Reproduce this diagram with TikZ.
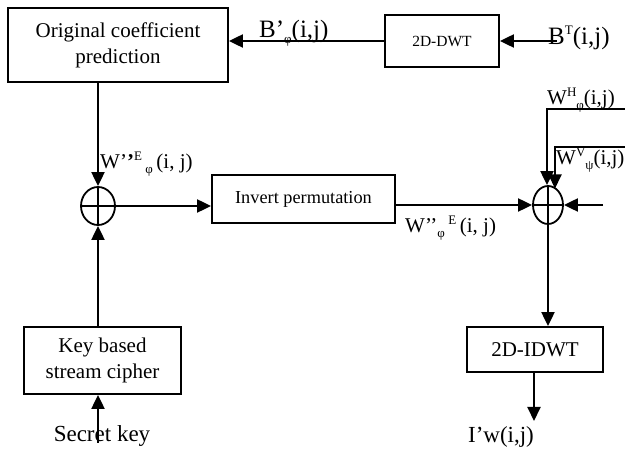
\documentclass[tikz,border=0pt]{standalone}
\usepackage{fontspec}
\setmainfont{Liberation Serif}
\usetikzlibrary{arrows.meta,shapes.geometric}
\newcommand{\Up}[1]{\raisebox{0.42em}{\fontsize{13}{13}\selectfont #1}}
\newcommand{\Dn}[1]{\raisebox{-0.22em}{\fontsize{13}{13}\selectfont #1}}
\begin{document}
\begin{tikzpicture}[x=1pt,y=-1pt,
  box/.style={draw,line width=1.8pt,rectangle,inner sep=0pt,align=center},
  sumnode/.style={draw,line width=1.8pt,ellipse,inner sep=0pt},
  conn/.style={line width=2pt,-{Triangle[length=14pt,width=13pt]}},
  plain/.style={line width=2pt},
  lab/.style={anchor=base west,inner sep=0pt},
  big/.style={font=\fontsize{21}{26}\selectfont},
  huge/.style={font=\fontsize{25}{30}\selectfont},
  wlab/.style={font=\fontsize{21}{26}\selectfont}]
\useasboundingbox (0,0) rectangle (625,449);
% boxes
\node[box,big,minimum width=220pt,minimum height=74pt] (orig) at (118,45) {Original coefficient\\prediction};
\node[box,font=\fontsize{15.5}{18}\selectfont,minimum width=114pt,minimum height=52pt] (dwt) at (442,41) {2D-DWT};
\node[box,font=\fontsize{18.3}{22}\selectfont,minimum width=183pt,minimum height=48pt] (inv) at (303.5,199) {Invert permutation};
\node[box,big,minimum width=157pt,minimum height=67pt] (key) at (102.5,360.5) {Key based\\stream cipher};
\node[box,big,minimum width=136pt,minimum height=45pt] (idwt) at (535,349.5) {2D-IDWT};
% adders
\node[sumnode,minimum width=34pt,minimum height=38pt] (sumL) at (98,206) {};
\node[sumnode,minimum width=30pt,minimum height=38pt] (sumR) at (548,205) {};
\draw[plain] (sumL.north) -- (sumL.south) (sumL.west) -- (sumL.east);
\draw[plain] (sumR.north) -- (sumR.south) (sumR.west) -- (sumR.east);
% free ends
\coordinate (bt) at (557,41);
\coordinate (wh) at (625,109);
\coordinate (whc) at (547,109);
\coordinate (wv) at (625,147);
\coordinate (wvc) at (555,147);
\coordinate (wvt) at (555,188.5);
\coordinate (rin) at (603,205);
\coordinate (iw) at (534,421);
\coordinate (sk) at (98,443);
% connectors
\draw[conn] (bt) -- (dwt.east);
\draw[conn] (dwt.west) -- (orig.east |- dwt.west);
\draw[conn] (orig.south -| sumL) -- (sumL.north);
\draw[conn] (key.north -| sumL) -- (sumL.south);
\draw[conn] (sumL.east) -- (inv.west |- sumL.east);
\draw[conn] (inv.east |- sumR.west) -- (sumR.west);
\draw[conn] (wh) -- (whc) -- (sumR.north -| whc);
\draw[conn] (wv) -- (wvc) -- (wvt);
\draw[conn] (rin) -- (sumR.east);
\draw[conn] (sumR.south) -- (idwt.north -| sumR.south);
\draw[conn] (idwt.south -| iw) -- (iw);
\draw[conn] (sk) -- (key.south -| sk);
% labels
\node[lab,huge] (lbp) at (259,38) {B’\Dn{φ}(i,j)};
\node[lab,huge] (lbt) at (548,45) {B\Up{T}(i,j)};
\node[lab,wlab] (lwh) at (547,105) {W\Up{H}\Dn{φ}(i,j)};
\node[lab,wlab] (lwv) at (556,165) {W\Up{V}\Dn{ψ}(i,j)};
\node[lab,wlab] (lwe1) at (100,169) {W’\textbf{’}\Up{E}\,\Dn{φ}\,(i, j)};
\node[lab,wlab] (lwe2) at (405,233) {W’’\Dn{φ}\,\Up{E}\,(i, j)};
\node[anchor=base,inner sep=0pt,font=\fontsize{23}{27}\selectfont] (lsk) at (102,442) {Secret key};
\node[anchor=base,inner sep=0pt,font=\fontsize{23}{27}\selectfont] (liw) at (501,443) {I’w(i,j)};
\end{tikzpicture}
\end{document}
